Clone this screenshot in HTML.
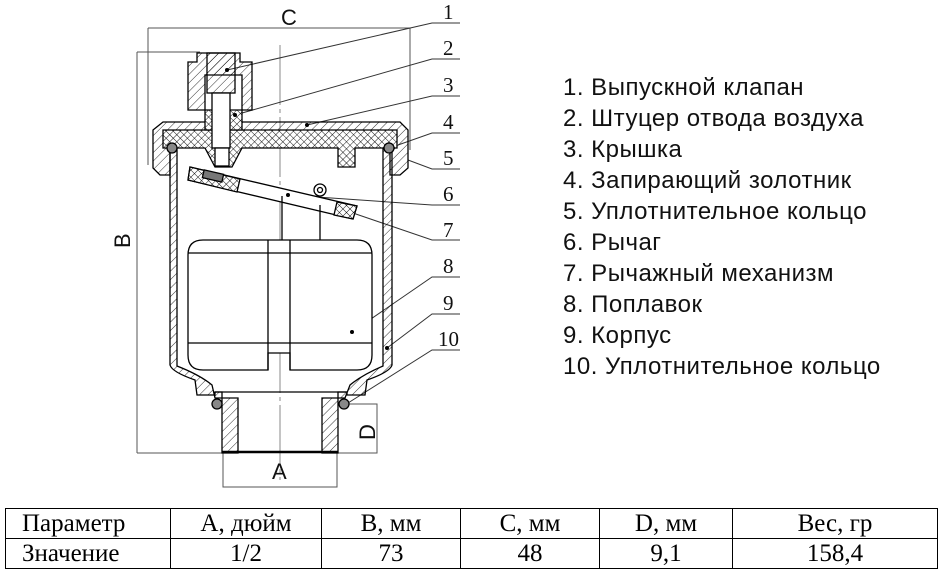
<!DOCTYPE html>
<html><head><meta charset="utf-8"><style>
body{margin:0;background:#fff;width:944px;height:577px;overflow:hidden;position:relative;font-family:"Liberation Sans",sans-serif}
.lg{position:absolute;left:563px;font-size:24px;color:#111;line-height:31px;top:72px;letter-spacing:0.5px}
table{position:absolute;left:5px;top:508px;border-collapse:collapse;font-family:"Liberation Serif",serif;font-size:25px;table-layout:fixed;width:933px}
td{border:1.5px solid #000;height:29px;padding:0;text-align:center;line-height:28px;overflow:hidden;white-space:nowrap}
td:first-child{text-align:left;padding-left:16px}
</style></head><body>
<svg width="944" height="577" style="position:absolute;left:0;top:0" xmlns="http://www.w3.org/2000/svg">
<defs>
<pattern id="h" width="6" height="6" patternUnits="userSpaceOnUse" patternTransform="rotate(45)"><line x1="0" y1="0" x2="0" y2="6" stroke="#000" stroke-width="0.8"/></pattern>
<pattern id="x" width="5" height="5" patternUnits="userSpaceOnUse" patternTransform="rotate(45)"><rect width="5" height="5" fill="#fff"/><line x1="0" y1="0" x2="0" y2="5" stroke="#000" stroke-width="0.9"/><line x1="0" y1="0" x2="5" y2="0" stroke="#000" stroke-width="0.9"/></pattern>
</defs>
<g fill="none" stroke="#555" stroke-width="1">
<line x1="148" y1="28" x2="410" y2="28"/><line x1="148" y1="28" x2="148" y2="165"/><line x1="410" y1="28" x2="410" y2="150"/>
<line x1="137" y1="52" x2="137" y2="453"/><line x1="137" y1="52" x2="200" y2="52"/><line x1="137" y1="453" x2="237" y2="453"/>
<rect x="338" y="404" width="39" height="49"/>
<polyline points="223,453 223,487 337,487 337,453"/>
<line x1="280" y1="45" x2="280" y2="480" stroke-dasharray="60,4,4,4" stroke="#888"/>
</g>
<g font-family="Liberation Sans,sans-serif" font-size="22" fill="#111">
<text x="281" y="25">C</text>
<text x="272" y="479">A</text>
<text transform="translate(130,248) rotate(-90)">B</text>
<text transform="translate(375,440) rotate(-90)">D</text>
</g>
<g stroke="#333" stroke-width="1" fill="none">
<polyline points="460,23 432,23 227,70"/>
<polyline points="460,59 432,59 235,115"/>
<polyline points="460,96 432,96 307,125"/>
<polyline points="460,133 432,133 398,145"/>
<polyline points="460,169 432,169 408,160"/>
<polyline points="460,205 432,205 288,195"/>
<polyline points="460,240 432,240 350,212"/>
<polyline points="460,277 432,277 352,332"/>
<polyline points="460,314 432,314 387,348"/>
<polyline points="460,350 432,350 348,403"/>
</g>
<g font-family="Liberation Serif,serif" font-size="21" fill="#111">
<text x="443" y="19">1</text><text x="443" y="55">2</text><text x="443" y="92">3</text><text x="443" y="129">4</text><text x="443" y="165">5</text><text x="443" y="201">6</text><text x="443" y="237">7</text><text x="443" y="273">8</text><text x="443" y="310">9</text><text x="438" y="346">10</text>
</g>
<g stroke="#000" stroke-width="1.3">
<path d="M170,140 L170,365 Q172,372 195,380 L197,395 L215,395 L215,392 L222,392 L222,453 L238,453 L238,398 L215,398 L212,385 Q200,375 177,366 L177,140 Z" fill="url(#h)"/>
<path d="M392,140 L392,365 Q390,372 367,380 L365,395 L347,395 L347,392 L338,392 L338,453 L322,453 L322,398 L345,398 L350,385 Q362,375 383,366 L383,140 Z" fill="url(#h)"/>
<path d="M215,392 L347,392" fill="none"/>
<line x1="222" y1="452" x2="338" y2="452" stroke-width="2.5"/>
<path d="M153,130 L163,122 L400,122 L408,130 L408,168 L400,175 L390,175 L390,140 L170,140 L170,175 L160,175 L153,168 Z" fill="url(#h)"/>
<path d="M163,130 L397,130 L397,148 L355,148 L355,167 L338,167 L338,148 L242,148 L232,167 L215,167 L205,148 L163,148 Z" fill="url(#x)"/>
<path d="M205,110 L242,110 L242,130 L205,130 Z" fill="url(#x)"/>
<path d="M188,62 L197,62 L197,53 L240,53 L240,62 L252,62 L252,110 L242,110 L242,75 L205,75 L205,110 L188,110 Z" fill="url(#h)"/>
<rect x="207" y="53" width="28" height="40" fill="url(#h)"/>
<rect x="212" y="93" width="18" height="55" fill="#fff"/>
<rect x="215" y="148" width="14" height="18" fill="#fff"/>
<circle cx="172" cy="148" r="5" fill="#888"/><circle cx="389" cy="148" r="5" fill="#888"/>
<circle cx="217" cy="404" r="5" fill="#888"/><circle cx="344" cy="404" r="5" fill="#888"/>
<path d="M190,167 L357,206 L353,219 L188,180 Z" fill="#fff"/>
<path d="M190,167 L240,179 L237,192 L188,180 Z" fill="url(#x)"/>
<rect x="203" y="172" width="20" height="8" fill="#777" transform="rotate(13 213 176)"/>
<path d="M337,202 L357,206 L353,219 L334,215 Z" fill="url(#x)"/>
<circle cx="320" cy="190" r="6" fill="#fff"/><circle cx="320" cy="190" r="2.5" fill="none"/>
<line x1="282" y1="196" x2="282" y2="240"/><line x1="320" y1="205" x2="320" y2="240"/>
<path d="M203,240 L357,240 Q372,240 372,255 L372,355 Q372,370 357,370 L290,370 L290,353 L268,353 L268,370 L203,370 Q188,370 188,355 L188,255 Q188,240 203,240 Z" fill="#fff"/>
<line x1="188" y1="253" x2="372" y2="253"/><line x1="188" y1="343" x2="372" y2="343"/>
<line x1="268" y1="240" x2="268" y2="370"/><line x1="290" y1="240" x2="290" y2="370"/>
</g>
<circle cx="352" cy="332" r="2" fill="#000"/><circle cx="387" cy="348" r="2" fill="#000"/><circle cx="227" cy="70" r="2" fill="#000"/><circle cx="235" cy="115" r="2" fill="#000"/><circle cx="307" cy="125" r="2" fill="#000"/><circle cx="288" cy="195" r="2" fill="#000"/>
</svg>
<div class="lg">1. Выпускной клапан<br>2. Штуцер отвода воздуха<br>3. Крышка<br>4. Запирающий золотник<br>5. Уплотнительное кольцо<br>6. Рычаг<br>7. Рычажный механизм<br>8. Поплавок<br>9. Корпус<br>10. Уплотнительное кольцо</div>
<table>
<tr><td style="width:148px">Параметр</td><td style="width:150px">A, дюйм</td><td style="width:138px">B, мм</td><td style="width:138px">C, мм</td><td style="width:132px">D, мм</td><td>Вес, гр</td></tr>
<tr><td>Значение</td><td>1/2</td><td>73</td><td>48</td><td>9,1</td><td>158,4</td></tr>
</table>
</body></html>
